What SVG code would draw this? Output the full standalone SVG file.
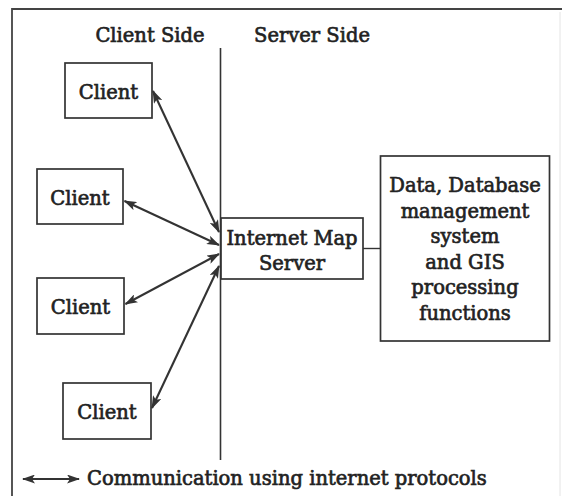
<svg xmlns="http://www.w3.org/2000/svg" width="562" height="496" viewBox="0 0 562 496">
  <style>
    .box { fill: #ffffff; stroke: #333333; stroke-width: 1.7; }
    .frame { fill: none; stroke: #444444; stroke-width: 1.8; }
    .divider { fill: none; stroke: #333333; stroke-width: 1.6; }
    .link { fill: none; stroke: #333333; stroke-width: 2.1; }
    .plain { fill: none; stroke: #333333; stroke-width: 1.4; }
    text { font-family: "DejaVu Serif", "Liberation Serif", serif; font-size: 19.5px; fill: #222222; stroke: #222222; stroke-width: 0.65; }
    .mid { text-anchor: middle; }
  </style>
  <defs>
    <marker id="head" viewBox="0 0 13 9" refX="12" refY="4.5" markerWidth="13" markerHeight="9" markerUnits="userSpaceOnUse" orient="auto-start-reverse">
      <path d="M0,0 L13,4.5 L0,9 L3,4.5 Z" fill="#333333"/>
    </marker>
  </defs>

  <rect width="562" height="496" fill="#ffffff"/>

  <!-- outer frame (continues past the right and bottom edges) -->
  <path class="frame" d="M12,500 V9 H562"/>
  <line x1="560" y1="12" x2="560" y2="496" stroke="#e4e4e4" stroke-width="1"/>

  <!-- side headings and divider -->
  <g id="headings">
    <text x="150" y="42" class="mid">Client Side</text>
    <text x="312" y="42" class="mid">Server Side</text>
  </g>
  <line id="divider" class="divider" x1="220.5" y1="48" x2="220.5" y2="460"/>

  <!-- client nodes -->
  <g id="client1">
    <rect class="box" x="65" y="63" width="87" height="55"/>
    <text x="108.5" y="99" class="mid">Client</text>
  </g>
  <g id="client2">
    <rect class="box" x="37" y="169" width="86" height="55"/>
    <text x="80" y="205" class="mid">Client</text>
  </g>
  <g id="client3">
    <rect class="box" x="37" y="278" width="87" height="56"/>
    <text x="80.5" y="314" class="mid">Client</text>
  </g>
  <g id="client4">
    <rect class="box" x="63" y="383" width="88" height="56"/>
    <text x="107" y="419" class="mid">Client</text>
  </g>

  <!-- server node -->
  <g id="map-server">
    <rect class="box" x="221" y="218" width="142" height="61"/>
    <text x="292" y="245" class="mid">Internet Map</text>
    <text x="292" y="270" class="mid">Server</text>
  </g>

  <!-- data / DBMS / GIS node -->
  <g id="data-system">
    <rect class="box" x="380.5" y="156" width="169" height="185"/>
    <text x="465" y="192" class="mid">Data, Database</text>
    <text x="465" y="217.5" class="mid">management</text>
    <text x="465" y="243" class="mid">system</text>
    <text x="465" y="268.5" class="mid">and GIS</text>
    <text x="465" y="294" class="mid">processing</text>
    <text x="465" y="320" class="mid">functions</text>
  </g>

  <!-- connectors -->
  <g id="connectors">
    <line class="link" x1="153" y1="91" x2="219" y2="232" marker-start="url(#head)" marker-end="url(#head)"/>
    <line class="link" x1="124.5" y1="201" x2="219" y2="245" marker-start="url(#head)" marker-end="url(#head)"/>
    <line class="link" x1="125.5" y1="304" x2="219" y2="254" marker-start="url(#head)" marker-end="url(#head)"/>
    <line class="link" x1="152" y1="408" x2="219" y2="266" marker-start="url(#head)" marker-end="url(#head)"/>
    <line class="plain" x1="363" y1="248.5" x2="380.5" y2="248.5"/>
  </g>

  <!-- legend -->
  <g id="legend">
    <line class="link" x1="23" y1="479" x2="79" y2="479" stroke-width="1.6" marker-start="url(#head)" marker-end="url(#head)"/>
    <text x="87" y="485">Communication using internet protocols</text>
  </g>
</svg>
